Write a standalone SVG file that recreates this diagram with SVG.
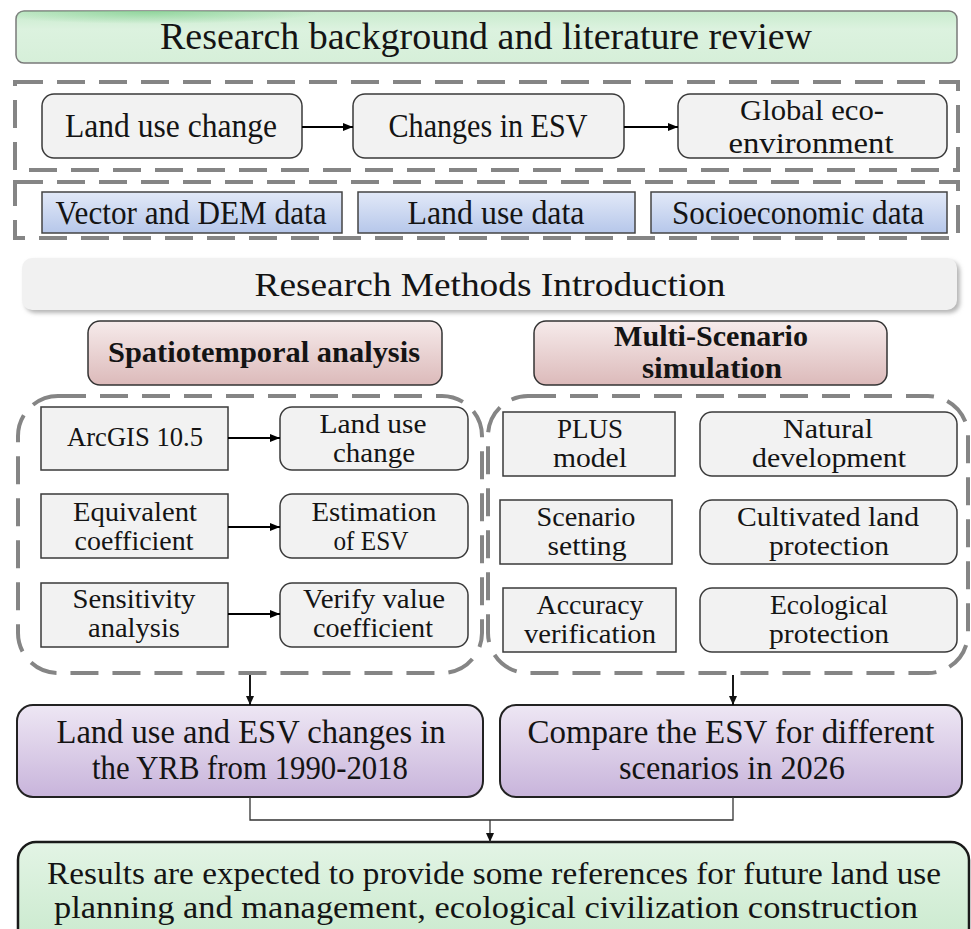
<svg xmlns="http://www.w3.org/2000/svg" width="971" height="929" viewBox="0 0 971 929">
<defs>
<style>
.t{font-family:"Liberation Serif","Times New Roman",serif;fill:#141414;text-anchor:middle}
.s30{font-size:34px}
.s25{font-size:27px}
.b{font-weight:bold;font-size:29px}
.gray{fill:#f2f2f2;stroke:#3a3a3a;stroke-width:1.5}
.blue{fill:url(#gBlue);stroke:#444;stroke-width:1.5}
.pink{fill:url(#gPink);stroke:#333;stroke-width:1.5}
.purple{fill:url(#gPurple);stroke:#222;stroke-width:2}
.dash{fill:none;stroke:#858585;stroke-width:4;stroke-dasharray:28 14}
.conn{fill:none;stroke:#000;stroke-width:1.8}
.thin{fill:none;stroke:#333;stroke-width:1.3}
</style>
<linearGradient id="gBlue" x1="0" y1="0" x2="0" y2="1"><stop offset="0" stop-color="#e2e9f8"/><stop offset="1" stop-color="#b6c7ea"/></linearGradient>
<linearGradient id="gPink" x1="0" y1="0" x2="0" y2="1"><stop offset="0" stop-color="#f6ebeb"/><stop offset="1" stop-color="#dcbaba"/></linearGradient>
<linearGradient id="gPurple" x1="0" y1="0" x2="0" y2="1"><stop offset="0" stop-color="#eee7f4"/><stop offset="1" stop-color="#c8b4db"/></linearGradient>
<linearGradient id="gGreen" x1="0" y1="0" x2="0" y2="1"><stop offset="0" stop-color="#c8ebcd"/><stop offset="0.35" stop-color="#dcf2df"/><stop offset="1" stop-color="#d6efd9"/></linearGradient>
<linearGradient id="gGreen2" x1="0" y1="0" x2="0" y2="1"><stop offset="0" stop-color="#e3f4e5"/><stop offset="1" stop-color="#c8e9cc"/></linearGradient>
<radialGradient id="gGlow" cx="0.5" cy="0.5" r="0.5"><stop offset="0" stop-color="#8ed49a" stop-opacity="0.9"/><stop offset="1" stop-color="#8ed49a" stop-opacity="0"/></radialGradient>
<clipPath id="cTitle"><rect x="16" y="11" width="941" height="52" rx="8"/></clipPath>
<filter id="sh" x="-5%" y="-20%" width="110%" height="150%"><feGaussianBlur stdDeviation="2"/></filter>
<marker id="ah" markerWidth="10" markerHeight="8" refX="10" refY="4" orient="auto" markerUnits="userSpaceOnUse"><path d="M0,0 L10,4 L0,8 Z" fill="#000"/></marker>
<marker id="ah2" markerWidth="9" markerHeight="8" refX="9" refY="4" orient="auto" markerUnits="userSpaceOnUse"><path d="M0,0 L9,4 L0,8 Z" fill="#111"/></marker>
</defs>
<rect width="971" height="929" fill="#fff"/>

<g id="title">
<rect x="16" y="11" width="941" height="52" rx="8" fill="url(#gGreen)" stroke="#7a7a7a" stroke-width="1.5"/>
<g clip-path="url(#cTitle)"><ellipse cx="150" cy="12" rx="170" ry="12" fill="url(#gGlow)"/></g>
<text class="t" x="486" y="49" font-size="38" textLength="652" lengthAdjust="spacingAndGlyphs">Research background and literature review</text>
</g>

<g id="groups">
<rect class="dash" x="15" y="82" width="943" height="88"/>
<rect class="dash" x="15" y="182" width="943" height="56"/>
<rect class="dash" x="18" y="396" width="464" height="277" rx="40"/>
<rect class="dash" x="488" y="396" width="480" height="277" rx="40"/>
</g>

<g id="n-landuse">
<rect class="gray" x="42" y="94" width="260" height="64" rx="12"/>
<text class="t s30" x="171" y="137" textLength="212" lengthAdjust="spacingAndGlyphs">Land use change</text>
</g>
<g id="n-esv">
<rect class="gray" x="353" y="94" width="271" height="64" rx="12"/>
<text class="t s30" x="488" y="137" textLength="199" lengthAdjust="spacingAndGlyphs">Changes in ESV</text>
</g>
<g id="n-global">
<rect class="gray" x="678" y="94" width="269" height="64" rx="12"/>
<text class="t" font-size="30" x="812" y="120" textLength="144" lengthAdjust="spacingAndGlyphs">Global eco-</text>
<text class="t" font-size="30" x="811" y="153" textLength="165" lengthAdjust="spacingAndGlyphs">environment</text>
</g>

<g id="n-vector">
<rect class="blue" x="42" y="192" width="300" height="41"/>
<text class="t s30" x="191" y="224" textLength="271" lengthAdjust="spacingAndGlyphs">Vector and DEM data</text>
</g>
<g id="n-landdata">
<rect class="blue" x="358" y="192" width="277" height="41"/>
<text class="t s30" x="496" y="224" textLength="177" lengthAdjust="spacingAndGlyphs">Land use data</text>
</g>
<g id="n-socio">
<rect class="blue" x="651" y="192" width="296" height="41"/>
<text class="t s30" x="798" y="224" textLength="252" lengthAdjust="spacingAndGlyphs">Socioeconomic data</text>
</g>

<g id="n-methods">
<rect x="25" y="261" width="935" height="52" rx="10" fill="#b5b5b5" filter="url(#sh)"/>
<rect x="22" y="258" width="935" height="52" rx="10" fill="#f1f1f1"/>
<text class="t" font-size="33" x="490" y="296" textLength="471" lengthAdjust="spacingAndGlyphs">Research Methods Introduction</text>
</g>

<g id="n-spatio">
<rect class="pink" x="88" y="321" width="354" height="64" rx="12"/>
<text class="t b" x="264" y="362" textLength="312" lengthAdjust="spacingAndGlyphs">Spatiotemporal analysis</text>
</g>
<g id="n-multi">
<rect class="pink" x="534" y="321" width="353" height="64" rx="12"/>
<text class="t b" x="711" y="346" textLength="194" lengthAdjust="spacingAndGlyphs">Multi-Scenario</text>
<text class="t b" x="712" y="378" textLength="140" lengthAdjust="spacingAndGlyphs">simulation</text>
</g>

<g id="n-arcgis">
<rect class="gray" x="41" y="407" width="187" height="63"/>
<text class="t s25" x="135" y="446" textLength="136" lengthAdjust="spacingAndGlyphs">ArcGIS 10.5</text>
</g>
<g id="n-luc">
<rect class="gray" x="280" y="407" width="188" height="63" rx="12"/>
<text class="t s25" x="373" y="433" textLength="107" lengthAdjust="spacingAndGlyphs">Land use</text>
<text class="t s25" x="374" y="462" textLength="82" lengthAdjust="spacingAndGlyphs">change</text>
</g>
<g id="n-equiv">
<rect class="gray" x="41" y="494" width="187" height="64"/>
<text class="t s25" x="135" y="521" textLength="124" lengthAdjust="spacingAndGlyphs">Equivalent</text>
<text class="t s25" x="134" y="550" textLength="119" lengthAdjust="spacingAndGlyphs">coefficient</text>
</g>
<g id="n-estim">
<rect class="gray" x="280" y="494" width="188" height="64" rx="12"/>
<text class="t s25" x="374" y="521" textLength="125" lengthAdjust="spacingAndGlyphs">Estimation</text>
<text class="t s25" x="371" y="550" textLength="75" lengthAdjust="spacingAndGlyphs">of ESV</text>
</g>
<g id="n-sens">
<rect class="gray" x="41" y="583" width="187" height="64"/>
<text class="t s25" x="134" y="608" textLength="123" lengthAdjust="spacingAndGlyphs">Sensitivity</text>
<text class="t s25" x="134" y="637" textLength="92" lengthAdjust="spacingAndGlyphs">analysis</text>
</g>
<g id="n-verify">
<rect class="gray" x="280" y="583" width="188" height="64" rx="12"/>
<text class="t s25" x="374" y="608" textLength="142" lengthAdjust="spacingAndGlyphs">Verify value</text>
<text class="t s25" x="373" y="637" textLength="120" lengthAdjust="spacingAndGlyphs">coefficient</text>
</g>

<g id="n-plus">
<rect class="gray" x="503" y="412" width="172" height="64"/>
<text class="t s25" x="590" y="438" textLength="66" lengthAdjust="spacingAndGlyphs">PLUS</text>
<text class="t s25" x="590" y="467" textLength="74" lengthAdjust="spacingAndGlyphs">model</text>
</g>
<g id="n-natural">
<rect class="gray" x="700" y="412" width="257" height="64" rx="12"/>
<text class="t s25" x="828" y="438" textLength="90" lengthAdjust="spacingAndGlyphs">Natural</text>
<text class="t s25" x="829" y="467" textLength="154" lengthAdjust="spacingAndGlyphs">development</text>
</g>
<g id="n-scenario">
<rect class="gray" x="500" y="500" width="172" height="64"/>
<text class="t s25" x="586" y="526" textLength="99" lengthAdjust="spacingAndGlyphs">Scenario</text>
<text class="t s25" x="587" y="555" textLength="79" lengthAdjust="spacingAndGlyphs">setting</text>
</g>
<g id="n-cultivated">
<rect class="gray" x="700" y="500" width="257" height="64" rx="12"/>
<text class="t s25" x="828" y="526" textLength="182" lengthAdjust="spacingAndGlyphs">Cultivated land</text>
<text class="t s25" x="829" y="555" textLength="120" lengthAdjust="spacingAndGlyphs">protection</text>
</g>
<g id="n-accuracy">
<rect class="gray" x="503" y="588" width="173" height="64"/>
<text class="t s25" x="590" y="614" textLength="107" lengthAdjust="spacingAndGlyphs">Accuracy</text>
<text class="t s25" x="590" y="643" textLength="132" lengthAdjust="spacingAndGlyphs">verification</text>
</g>
<g id="n-ecological">
<rect class="gray" x="700" y="588" width="257" height="64" rx="12"/>
<text class="t s25" x="829" y="614" textLength="118" lengthAdjust="spacingAndGlyphs">Ecological</text>
<text class="t s25" x="829" y="643" textLength="120" lengthAdjust="spacingAndGlyphs">protection</text>
</g>

<g id="n-result-left">
<rect class="purple" x="17" y="705" width="466" height="92" rx="16"/>
<text class="t" font-size="33" x="251" y="743" textLength="389" lengthAdjust="spacingAndGlyphs">Land use and ESV changes in</text>
<text class="t" font-size="33" x="250" y="779" textLength="316" lengthAdjust="spacingAndGlyphs">the YRB from 1990-2018</text>
</g>
<g id="n-result-right">
<rect class="purple" x="500" y="705" width="462" height="92" rx="16"/>
<text class="t" font-size="33" x="731" y="743" textLength="407" lengthAdjust="spacingAndGlyphs">Compare the ESV for different</text>
<text class="t" font-size="33" x="732" y="779" textLength="226" lengthAdjust="spacingAndGlyphs">scenarios in 2026</text>
</g>

<g id="n-final">
<rect x="18" y="842" width="951" height="110" rx="18" fill="url(#gGreen2)" stroke="#1a1a1a" stroke-width="2.5"/>
<text class="t" font-size="32" x="494" y="884" textLength="894" lengthAdjust="spacingAndGlyphs">Results are expected to provide some references for future land use</text>
<text class="t" font-size="32" x="486" y="918" textLength="864" lengthAdjust="spacingAndGlyphs">planning and management,  ecological civilization construction</text>
</g>

<g id="connectors">
<line class="conn" x1="302" y1="127" x2="353" y2="127" marker-end="url(#ah)"/>
<line class="conn" x1="624" y1="127" x2="678" y2="127" marker-end="url(#ah)"/>
<line class="conn" x1="228" y1="438" x2="280" y2="438" marker-end="url(#ah)"/>
<line class="conn" x1="228" y1="527" x2="280" y2="527" marker-end="url(#ah)"/>
<line class="conn" x1="228" y1="614" x2="280" y2="614" marker-end="url(#ah)"/>
<line class="conn" x1="250" y1="675" x2="250" y2="705" marker-end="url(#ah2)"/>
<line class="conn" x1="733" y1="675" x2="733" y2="705" marker-end="url(#ah2)"/>
<polyline class="thin" points="250,797 250,820 733,820 733,797"/>
<line class="thin" x1="490" y1="820" x2="490" y2="842" marker-end="url(#ah2)"/>
</g>
</svg>
